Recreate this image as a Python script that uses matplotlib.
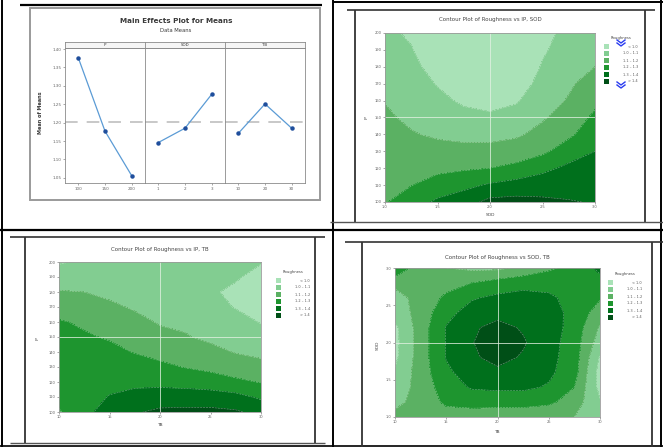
import matplotlib
matplotlib.use('Agg')
import matplotlib.pyplot as plt
import numpy as np
from matplotlib.lines import Line2D
from matplotlib.patches import Rectangle

# ---------------- data ----------------
ip_levels = ['100', '150', '200']
sod_levels = ['1', '2', '3']
tb_levels = ['10', '20', '30']
ip_means = [1.376, 1.177, 1.056]
sod_means = [1.146, 1.185, 1.277]
tb_means = [1.171, 1.251, 1.185]
grand_mean = 1.202
me_yticks = [1.05, 1.10, 1.15, 1.20, 1.25, 1.30, 1.35, 1.40]

sod_grid = [1.0, 1.25, 1.5, 1.75, 2.0, 2.25, 2.5, 2.75, 3.0]
tb_grid = [10, 12.5, 15, 17.5, 20, 22.5, 25, 27.5, 30]
ip_grid = [100, 110, 120, 130, 140, 150, 160, 170, 180, 190, 200]
sod_grid_y = [1.0, 1.2, 1.4, 1.6, 1.8, 2.0, 2.2, 2.4, 2.6, 2.8, 3.0]

# Roughness, rows = IP (100..200), cols = SOD (1..3)
rough_ip_sod = [
    [1.192, 1.253, 1.317, 1.358, 1.429, 1.433, 1.420, 1.406, 1.394],
    [1.176, 1.197, 1.242, 1.273, 1.312, 1.338, 1.353, 1.364, 1.363],
    [1.161, 1.167, 1.176, 1.188, 1.200, 1.225, 1.275, 1.321, 1.331],
    [1.145, 1.136, 1.129, 1.127, 1.131, 1.147, 1.180, 1.250, 1.300],
    [1.129, 1.106, 1.088, 1.075, 1.071, 1.086, 1.130, 1.181, 1.259],
    [1.113, 1.084, 1.056, 1.030, 1.018, 1.038, 1.089, 1.144, 1.218],
    [1.097, 1.065, 1.025, 0.984, 0.966, 0.990, 1.063, 1.107, 1.178],
    [1.078, 1.045, 0.994, 0.939, 0.913, 0.943, 1.037, 1.087, 1.139],
    [1.058, 1.025, 0.962, 0.893, 0.860, 0.895, 1.011, 1.072, 1.100],
    [1.039, 1.006, 0.930, 0.848, 0.810, 0.848, 0.984, 1.056, 1.075],
    [1.020, 0.986, 0.900, 0.800, 0.760, 0.800, 0.958, 1.040, 1.050],
]
# rows = IP (100..200), cols = TB (10..30)
rough_ip_tb = [
    [1.190, 1.280, 1.332, 1.390, 1.421, 1.425, 1.425, 1.412, 1.370],
    [1.230, 1.266, 1.304, 1.329, 1.343, 1.344, 1.343, 1.330, 1.284],
    [1.250, 1.252, 1.277, 1.279, 1.275, 1.267, 1.251, 1.219, 1.195],
    [1.255, 1.238, 1.249, 1.237, 1.220, 1.196, 1.174, 1.150, 1.130],
    [1.250, 1.224, 1.222, 1.196, 1.171, 1.151, 1.124, 1.095, 1.077],
    [1.232, 1.210, 1.192, 1.161, 1.126, 1.106, 1.083, 1.063, 1.034],
    [1.208, 1.187, 1.155, 1.126, 1.092, 1.085, 1.058, 1.032, 0.995],
    [1.160, 1.143, 1.117, 1.090, 1.074, 1.067, 1.030, 0.995, 0.965],
    [1.106, 1.100, 1.080, 1.070, 1.056, 1.050, 1.012, 0.980, 0.950],
    [1.054, 1.057, 1.050, 1.045, 1.038, 1.032, 1.020, 1.010, 0.970],
    [0.990, 1.014, 1.025, 1.020, 1.020, 1.015, 1.030, 1.035, 1.005],
]
# rows = SOD (1..3), cols = TB (10..30)
rough_sod_tb = [
    [1.12, 1.13, 1.15, 1.15, 1.14, 1.14, 1.12, 1.10, 1.03],
    [1.08, 1.13, 1.22, 1.235, 1.235, 1.235, 1.22, 1.15, 1.01],
    [1.04, 1.14, 1.25, 1.31, 1.32, 1.32, 1.29, 1.20, 0.97],
    [1.01, 1.15, 1.28, 1.35, 1.38, 1.36, 1.32, 1.24, 0.96],
    [0.98, 1.15, 1.305, 1.385, 1.43, 1.39, 1.33, 1.25, 0.99],
    [0.97, 1.15, 1.305, 1.395, 1.46, 1.41, 1.34, 1.25, 1.05],
    [0.98, 1.15, 1.305, 1.385, 1.43, 1.39, 1.35, 1.26, 1.09],
    [1.04, 1.14, 1.27, 1.34, 1.37, 1.37, 1.34, 1.27, 1.15],
    [1.07, 1.13, 1.22, 1.29, 1.32, 1.33, 1.31, 1.28, 1.21],
    [1.12, 1.13, 1.16, 1.20, 1.24, 1.27, 1.28, 1.27, 1.27],
    [1.31, 1.12, 1.10, 1.08, 1.08, 1.12, 1.18, 1.24, 1.32],
]
contour_levels = [0.5, 1.0, 1.1, 1.2, 1.3, 1.4, 2.0]
legend_labels = ['< 1.0', '1.0 \u2013 1.1', '1.1 \u2013 1.2', '1.2 \u2013 1.3',
                 '1.3 \u2013 1.4', '> 1.4']
ip_ticks = [100, 110, 120, 130, 140, 150, 160, 170, 180, 190, 200]
sod_ticks = [1.0, 1.5, 2.0, 2.5, 3.0]
tb_ticks = [10, 15, 20, 25, 30]

greens = ['#a9e2b7', '#82cd91', '#5bb163', '#1e952f', '#00701c', '#004f17']

# ---------------- figure ----------------
W, H = 663, 447
fig = plt.figure(figsize=(W / 100, H / 100), dpi=100)
fig.patch.set_facecolor('white')


def px_axes(x0, y0, x1, y1):
    return fig.add_axes([x0 / W, 1 - y1 / H, (x1 - x0) / W, (y1 - y0) / H])


def fx(x):
    return x / W


def fy(y):
    return 1 - y / H


def hline(y, x0, x1, color='black', lw=1.5):
    fig.add_artist(Line2D([fx(x0), fx(x1)], [fy(y), fy(y)], color=color, lw=lw,
                          transform=fig.transFigure, solid_capstyle='butt'))


def vline(x, y0, y1, color='black', lw=1.5):
    fig.add_artist(Line2D([fx(x), fx(x)], [fy(y0), fy(y1)], color=color, lw=lw,
                          transform=fig.transFigure, solid_capstyle='butt'))


# table lines
vline(2, 0, 447, lw=1.4)
vline(333, 0, 447, lw=1.4)
vline(661, 0, 447, lw=1.4)
hline(230, 0, 663, lw=1.6)
hline(1.5, 333, 663, lw=1.4)
hline(446, 0, 663, lw=1.2)

# ---------------- main effects plot ----------------
hline(5, 20, 322, lw=1.6)
fig.add_artist(Rectangle((fx(30), fy(200)), fx(290), 192 / H, fill=False,
                         edgecolor='#9a9a9a', lw=1.4, transform=fig.transFigure))
fig.text(fx(176), fy(21), 'Main Effects Plot for Means', ha='center', va='center',
         fontsize=5.2, fontweight='bold', color='#3a3a3a')
fig.text(fx(176), fy(31), 'Data Means', ha='center', va='center', fontsize=3.8,
         color='#3a3a3a')
fig.text(fx(41), fy(113), 'Mean of Means', ha='center', va='center', rotation=90,
         fontsize=3.6, fontweight='bold', color='#3a3a3a')

panels = [('IP', ip_levels, ip_means), ('SOD', sod_levels, sod_means),
          ('TB', tb_levels, tb_means)]
bounds = [(65, 145), (145, 225), (225, 305)]
for i, ((name, labels, means), (x0, x1)) in enumerate(zip(panels, bounds)):
    ax = px_axes(x0, 48, x1, 183)
    pos = np.arange(1, len(labels) + 1)
    ax.axhline(grand_mean, color='#c4c4c4', lw=1.3, dashes=(7, 5), zorder=1)
    ax.plot(pos, means, color='#5b9bd5', lw=0.9, marker='o', ms=2.2,
            mfc='#1f4e9c', mec='#1f4e9c', zorder=3)
    ax.set_xlim(0.5, 3.5)
    ax.set_ylim(1.036, 1.403)
    ax.set_xticks(pos)
    ax.set_xticklabels(labels, fontsize=3, color='#444')
    ax.set_yticks(me_yticks)
    if i == 0:
        ax.set_yticklabels(['%.2f' % v for v in me_yticks], fontsize=3, color='#444')
        ax.tick_params(axis='y', length=1.5, width=0.4, pad=1, colors='#666')
    else:
        ax.tick_params(axis='y', left=False, labelleft=False)
    ax.tick_params(axis='x', length=1.5, width=0.4, pad=1.5, colors='#666')
    for sp in ax.spines.values():
        sp.set_color('#8a8a8a')
        sp.set_linewidth(0.6)
    sax = px_axes(x0, 42, x1, 48)
    sax.set_facecolor('#f5f5f5')
    sax.set_xticks([])
    sax.set_yticks([])
    for sp in sax.spines.values():
        sp.set_color('#8a8a8a')
        sp.set_linewidth(0.6)
    sax.text(0.5, 0.5, name, ha='center', va='center', fontsize=2.8,
             transform=sax.transAxes, color='#333')


# ---------------- contour plots ----------------
def contour_panel(rect, xg, yg, Z, title, title_xy, xlabel, xlabel_xy, ylabel,
                  ylabel_xy, xticks, yticks, xfmt, yfmt, legend_xy):
    ax = px_axes(*rect)
    X, Y = np.meshgrid(xg, yg)
    Zarr = np.array(Z)
    ax.contourf(X, Y, Zarr, levels=contour_levels, colors=greens)
    ax.contour(X, Y, Zarr, levels=contour_levels[1:-1], colors='white',
               linewidths=0.4, linestyles='--', alpha=0.45)
    ax.axvline((xg[0] + xg[-1]) / 2, color='#e3f1e3', lw=0.6, alpha=0.9)
    ax.axhline((yg[0] + yg[-1]) / 2, color='#e3f1e3', lw=0.6, alpha=0.9)
    ax.set_xlim(xg[0], xg[-1])
    ax.set_ylim(yg[0], yg[-1])
    ax.set_xticks(xticks)
    ax.set_yticks(yticks)
    ax.set_xticklabels([xfmt % v for v in xticks], fontsize=2.6, color='#444')
    ax.set_yticklabels([yfmt % v for v in yticks], fontsize=2.6, color='#444')
    ax.tick_params(length=1.5, width=0.4, pad=1, colors='#666')
    for sp in ax.spines.values():
        sp.set_color('#9a9a9a')
        sp.set_linewidth(0.6)
    fig.text(fx(title_xy[0]), fy(title_xy[1]), title, ha='center', va='center',
             fontsize=4.0, color='#444')
    fig.text(fx(xlabel_xy[0]), fy(xlabel_xy[1]), xlabel, ha='center', va='center',
             fontsize=3.2, color='#444')
    fig.text(fx(ylabel_xy[0]), fy(ylabel_xy[1]), ylabel, ha='center', va='center',
             fontsize=3.2, color='#444', rotation=90)
    lx, ly = legend_xy
    fig.text(fx(lx + 17), fy(ly), 'Roughness', ha='center', va='center',
             fontsize=2.7, color='#444')
    for k, (c, lab) in enumerate(zip(greens, legend_labels)):
        yy = ly + 6 + k * 7
        fig.add_artist(Rectangle((fx(lx), fy(yy + 5)), 5 / W, 5 / H, facecolor=c,
                                 edgecolor='none', transform=fig.transFigure))
        fig.text(fx(lx + 34), fy(yy + 2.5), lab, ha='right', va='center',
                 fontsize=2.5, color='#555')
    return ax


# contour 1 frame
vline(355, 10, 222, color='#333', lw=1.3)
vline(645, 10, 222, color='#333', lw=1.3)
hline(10, 347, 655, color='#333', lw=1.2)
hline(222, 330, 663, color='#555', lw=1.0)
contour_panel((385, 33, 595, 202), sod_grid, ip_grid, rough_ip_sod,
              'Contour Plot of Roughness vs IP, SOD', (490, 20),
              'SOD', (490, 215), 'IP', (367, 117),
              sod_ticks, ip_ticks, '%.1f', '%d', (604, 38))
# blue chevrons in legend 1
for cy in (42, 84):
    for dy in (0, 3):
        fig.add_artist(Line2D([fx(617), fx(621), fx(625)],
                              [fy(cy - 2 + dy), fy(cy + 1 + dy), fy(cy - 2 + dy)],
                              color='#2a3cf0', lw=1.0, transform=fig.transFigure))

# contour 2 frame
vline(25, 237, 443, color='#333', lw=1.3)
vline(315, 237, 443, color='#333', lw=1.3)
hline(237, 10, 325, color='#333', lw=1.2)
hline(443, 10, 325, color='#555', lw=1.0)
contour_panel((59, 262, 261, 412), tb_grid, ip_grid, rough_ip_tb,
              'Contour Plot of Roughness vs IP, TB', (160, 250),
              'TB', (160, 425), 'IP', (38, 338),
              tb_ticks, ip_ticks, '%d', '%d', (276, 272))

# contour 3 frame
vline(362, 242, 447, color='#333', lw=1.3)
vline(652, 242, 447, color='#333', lw=1.3)
hline(242, 345, 663, color='#333', lw=1.2)
contour_panel((395, 268, 600, 417), tb_grid, sod_grid_y, rough_sod_tb,
              'Contour Plot of Roughness vs SOD, TB', (497, 258),
              'TB', (497, 432), 'SOD', (378, 345),
              tb_ticks, sod_ticks, '%d', '%.1f', (608, 274))

fig.savefig('out.png', dpi=100, facecolor='white')
